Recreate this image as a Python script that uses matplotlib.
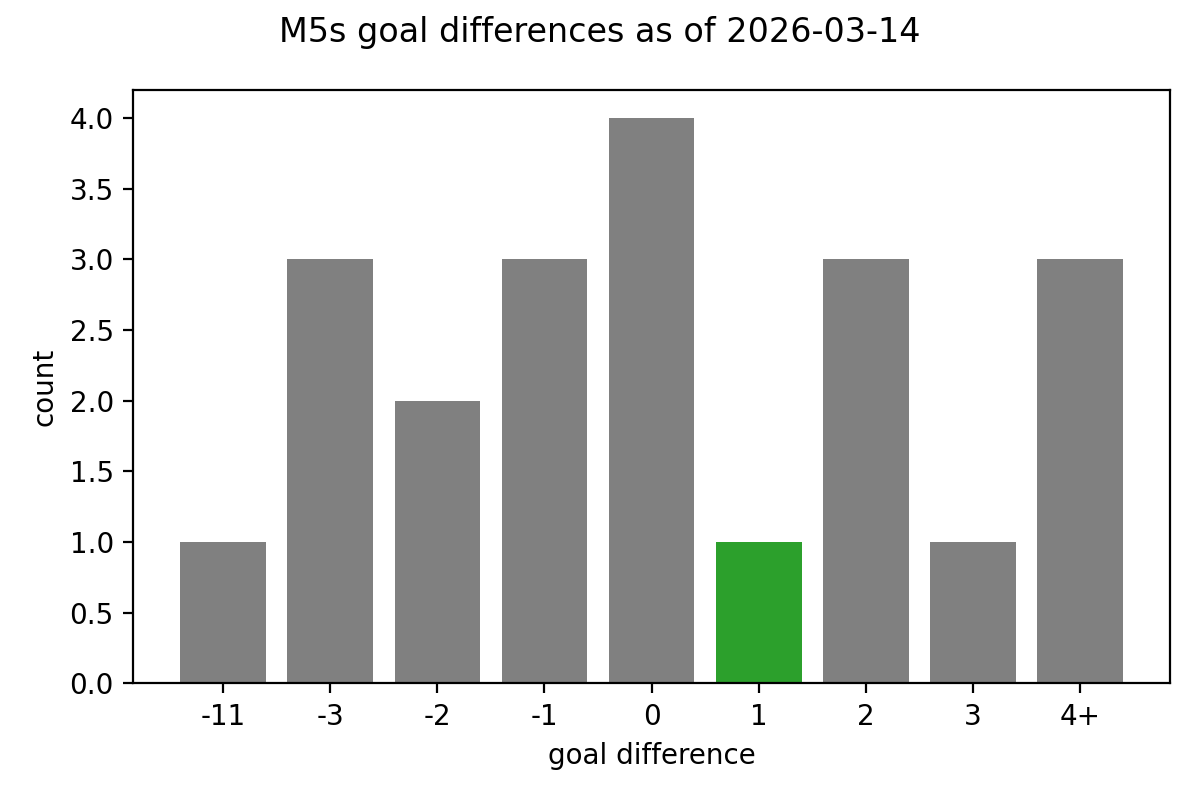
import matplotlib
matplotlib.use("Agg")
import matplotlib.pyplot as plt

# goal difference categories and counts
labels = ['-11', '-3', '-2', '-1', '0', '1', '2', '3', '4+']
counts = [1, 3, 2, 3, 4, 1, 3, 1, 3]
highlight = '1'


def plot_goal_diffs():
    fig, ax = plt.subplots(figsize=(6, 4), dpi=200)
    colors = ['tab:green' if l == highlight else 'grey' for l in labels]
    ax.bar(range(len(labels)), counts, color=colors, width=0.8)
    ax.set_xticks(range(len(labels)))
    ax.set_xticklabels(labels)
    ax.set_xlabel('goal difference')
    ax.set_ylabel('count')
    fig.suptitle('M5s goal differences as of 2026-03-14')
    fig.subplots_adjust(left=0.111, right=0.975, top=0.8875, bottom=0.146)
    fig.savefig('out.png')


if __name__ == '__main__':
    plot_goal_diffs()
